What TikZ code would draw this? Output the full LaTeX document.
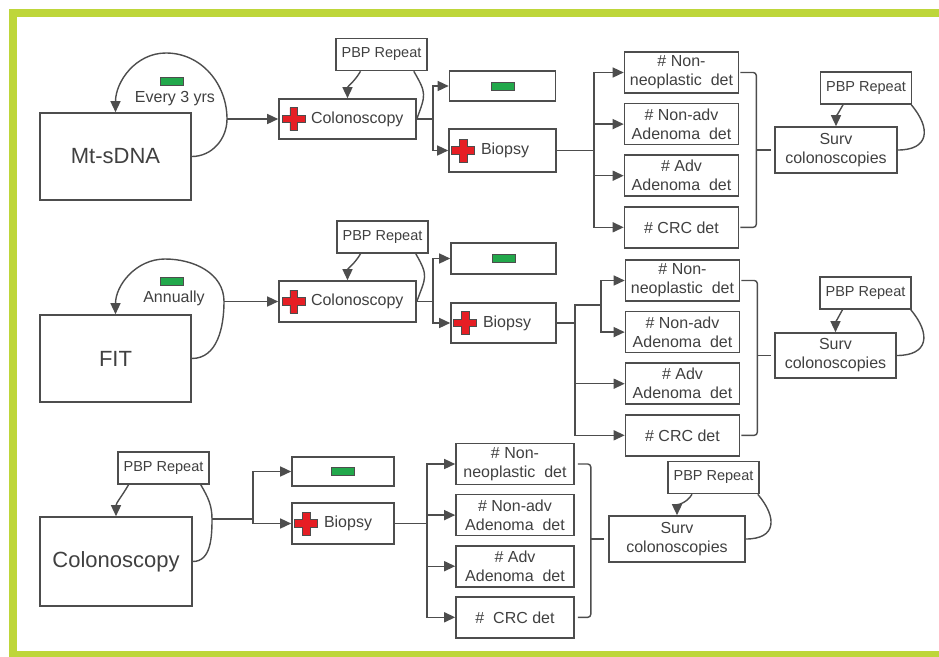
\documentclass[tikz,border=0pt]{standalone}
\usepackage{fontspec}
\setmainfont{Liberation Sans}
\usetikzlibrary{positioning, arrows.meta}
\usepackage{xcolor}

\definecolor{framegreen}{RGB}{190,214,58}
\definecolor{linegray}{RGB}{77,77,77}
\definecolor{textgray}{RGB}{64,64,64}
\definecolor{barfill}{RGB}{34,168,75}
\definecolor{plusred}{RGB}{230,30,36}

\tikzset{
	box/.style={draw=linegray, line width=1.6pt, text=textgray, inner sep=3pt,
		font=\fontsize{16}{19}\selectfont},
	testbox/.style={box, minimum width=151pt, minimum height=87pt,
		font=\fontsize{22}{26}\selectfont},
	crossbox/.style={box, text width=#1, align=left, minimum height=41pt,
		execute at begin node={\hspace*{29pt}}},
	negbox/.style={box, minimum width=106pt, minimum height=30pt},
	detbox/.style={box, minimum width=114pt, minimum height=41pt, align=center},
	survbox/.style={box, minimum width=122pt, minimum height=46pt, align=center},
	pbpbox/.style={box, minimum width=91pt, minimum height=32pt,
		font=\fontsize{14.5}{16}\selectfont},
	minusbar/.style={draw=linegray, fill=barfill, line width=0.8pt,
		minimum width=23pt, minimum height=8pt, inner sep=0pt},
	looplabel/.style={text=textgray, inner sep=0pt, font=\fontsize{16}{19}\selectfont},
	link/.style={draw=linegray, line width=1.4pt},
	bracket/.style={draw=linegray, line width=1.4pt, rounded corners=3pt},
	redplus/.pic={
		\filldraw[fill=plusred, draw=linegray, line width=0.8pt]
		(-3.8,-11.5) -- (3.8,-11.5) -- (3.8,-3.8) -- (11.5,-3.8) -- (11.5,3.8)
		-- (3.8,3.8) -- (3.8,11.5) -- (-3.8,11.5) -- (-3.8,3.8) -- (-11.5,3.8)
		-- (-11.5,-3.8) -- (-3.8,-3.8) -- cycle;}
}

\begin{document}
\begin{tikzpicture}[x=1pt, y=-1pt, >={Triangle[length=11pt,width=10pt]}]
	\useasboundingbox (0,0) rectangle (939,656);
	\draw[framegreen, line width=8pt] (13,13) rectangle (960,655);

	% Mt-sDNA row
	\node[testbox] (mt) at (115.5,156.5) {Mt-sDNA};
	\coordinate (mtr) at (227,119);
	\coordinate (mttop) at (166,53);
	\node[minusbar] (mtbar) at (171.5,81.5) {};
	\node[looplabel] (mtlab) at (175,99) {Every 3 yrs};
	\node[crossbox=131pt, minimum height=40pt] (col1) at (347.5,119) {Colonoscopy};
	\node[pbpbox] (pbp1) at (381.5,54.5) {PBP Repeat};
	\node[negbox] (neg1) at (502.5,86) {};
	\node[minusbar] (bar1) at (neg1) {};
	\node[crossbox=101pt, minimum height=43pt] (bio1) at (502.5,150.5) {Biopsy};
	\node[detbox] (nn1) at (681.5,72.5) {\# Non-\\neoplastic~ det};
	\node[detbox] (na1) [below=9pt of nn1] {\# Non-adv\\Adenoma~ det};
	\node[detbox] (ad1) [below=9pt of na1] {\# Adv\\Adenoma~ det};
	\node[detbox] (crc1) [below=9pt of ad1] {\# CRC det};
	\node[survbox] (surv1) at (836,150) {Surv\\colonoscopies};
	\node[pbpbox] (pbps1) at (866,88) {PBP Repeat};
	\pic at ([xshift=15.5pt]col1.west) {redplus};
	\pic at ([xshift=15pt]bio1.west) {redplus};

	\draw[link,->] (mt.east) to[out=0,in=-90] (mtr) to[out=90,in=0] (mttop)
		to[out=180,in=90] (mt.north);
	\draw[link,->] (mtr) -- (mtr -| col1.west);
	\draw[link,->] ([xshift=-21pt]pbp1.south) to[out=-120,in=90] (col1.north);
	\draw[link] (col1.east) to[out=70,in=-60,looseness=1.4] ([xshift=-14pt]pbp1.south east);
	\draw[link,->] (col1.east) -- ++(16,0) |- (neg1.west);
	\draw[link,->] (col1.east) -- ++(16,0) |- (bio1.west);
	\foreach \d in {nn1,na1,ad1,crc1}
		\draw[link,->] (bio1.east) -- ++(37,0) |- (\d.west);
	\draw[bracket] ([xshift=1pt]nn1.east) -| ([xshift=17pt]crc1.east) -- ([xshift=1pt]crc1.east);
	\draw[bracket] ([xshift=17pt]crc1.east |- surv1.west) -- ([xshift=-3pt]surv1.west);
	\draw[link,->] ([xshift=-23pt]pbps1.south) to[out=-120,in=90] (surv1.north);
	\draw[link] (surv1.east) to[out=0,in=-50,looseness=1.7] ([xshift=-1pt]pbps1.south east);

	% FIT row
	\node[testbox] (fit) at (115.5,358.5) {FIT};
	\coordinate (fitr) at (224,301.5);
	\coordinate (fittop) at (165,259);
	\node[minusbar] (fitbar) at (171.5,281) {};
	\node[looplabel] (fitlab) at (174,298) {Annually};
	\node[crossbox=131pt] (col2) at (347.5,301.5) {Colonoscopy};
	\node[pbpbox] (pbp2) at (382.5,237) {PBP Repeat};
	\node[negbox, minimum width=105pt, minimum height=31pt] (neg2) at (503.5,258.5) {};
	\node[minusbar] (bar2) at (neg2) {};
	\node[crossbox=99pt, minimum height=40pt] (bio2) at (503.5,323) {Biopsy};
	\node[detbox] (nn2) at (682.5,280.5) {\# Non-\\neoplastic~ det};
	\node[detbox] (na2) [below=9pt of nn2] {\# Non-adv\\Adenoma~ det};
	\node[detbox] (ad2) [below=9pt of na2] {\# Adv\\Adenoma~ det};
	\node[detbox] (crc2) [below=9pt of ad2] {\# CRC det};
	\node[survbox, minimum width=121pt, minimum height=45pt] (surv2) at (835.5,355.5) {Surv\\colonoscopies};
	\node[pbpbox] (pbps2) at (865.5,293) {PBP Repeat};
	\pic at ([xshift=15.5pt]col2.west) {redplus};
	\pic at ([xshift=15pt]bio2.west) {redplus};

	\draw[link,->] (fit.east) to[out=0,in=-90] (fitr) to[out=90,in=0] (fittop)
		to[out=180,in=90] (fit.north);
	\draw[link,->] (fitr) -- (fitr -| col2.west);
	\draw[link,->] ([xshift=-22pt]pbp2.south) to[out=-120,in=90] (col2.north);
	\draw[link] (col2.east) to[out=70,in=-60,looseness=1.4] ([xshift=-13pt]pbp2.south east);
	\draw[link,->] (col2.east) -- ++(16,0) |- (neg2.west);
	\draw[link,->] (col2.east) -- ++(16,0) |- (bio2.west);
	\foreach \d in {ad2,crc2}
		\draw[link,->] (bio2.east) -- ++(18,0) |- (\d.west);
	\foreach \d in {nn2,na2}
		\draw[link,->] (bio2.east) -- ++(18,0) -- ++(0,-18) -- ++(26,0) |- (\d.west);
	\draw[bracket] ([xshift=1pt]nn2.east) -| ([xshift=17pt]crc2.east) -- ([xshift=1pt]crc2.east);
	\draw[bracket] ([xshift=17pt]crc2.east |- surv2.west) -- ([xshift=-3pt]surv2.west);
	\draw[link,->] ([xshift=-23pt]pbps2.south) to[out=-120,in=90] (surv2.north);
	\draw[link] (surv2.east) to[out=0,in=-50,looseness=1.7] ([xshift=-1pt]pbps2.south east);

	% Colonoscopy row
	\node[testbox, minimum width=152pt, minimum height=89pt] (colo) at (116,561.5) {Colonoscopy};
	\node[pbpbox] (pbp3) at (163.5,468) {PBP Repeat};
	\coordinate (cor) at (212,519);
	\node[negbox, minimum width=102pt, minimum height=29pt] (neg3) at (343,471.5) {};
	\node[minusbar] (bar3) at (neg3) {};
	\node[crossbox=96pt] (bio3) at (343,523.5) {Biopsy};
	\node[detbox, minimum width=118pt] (nn3) at (515,464) {\# Non-\\neoplastic~ det};
	\node[detbox, minimum width=118pt] (na3) [below=8.5pt of nn3] {\# Non-adv\\Adenoma~ det};
	\node[detbox, minimum width=118pt] (ad3) [below=8.5pt of na3] {\# Adv\\Adenoma~ det};
	\node[detbox, minimum width=118pt] (crc3) [below=8.5pt of ad3] {\#~ CRC det};
	\node[survbox, minimum width=136pt] (surv3) at (677,539) {Surv\\colonoscopies};
	\node[pbpbox] (pbps3) at (713.5,477.5) {PBP Repeat};
	\pic at ([xshift=15pt]bio3.west) {redplus};

	\draw[link,->] ([xshift=-35pt]pbp3.south) to[out=-120,in=90] (colo.north);
	\draw[link] (colo.east) to[out=0,in=-90] (cor) to[out=90,in=-60] ([xshift=-9pt]pbp3.south east);
	\draw[link,->] (cor) -- ++(41,0) |- (neg3.west);
	\draw[link,->] (cor) -- ++(41,0) |- (bio3.west);
	\foreach \d in {nn3,na3,ad3,crc3}
		\draw[link,->] (bio3.east) -- ++(32,0) |- (\d.west);
	\draw[bracket] ([xshift=3pt]nn3.east) -| ([xshift=16pt]crc3.east) -- ([xshift=3pt]crc3.east);
	\draw[bracket] ([xshift=16pt]crc3.east |- surv3.west) -- ([xshift=-4pt]surv3.west);
	\draw[link,->] ([xshift=-21.5pt]pbps3.south) to[out=-120,in=90] (surv3.north);
	\draw[link] (surv3.east) to[out=0,in=-50,looseness=1.7] ([xshift=-2pt]pbps3.south east);
\end{tikzpicture}
\end{document}
